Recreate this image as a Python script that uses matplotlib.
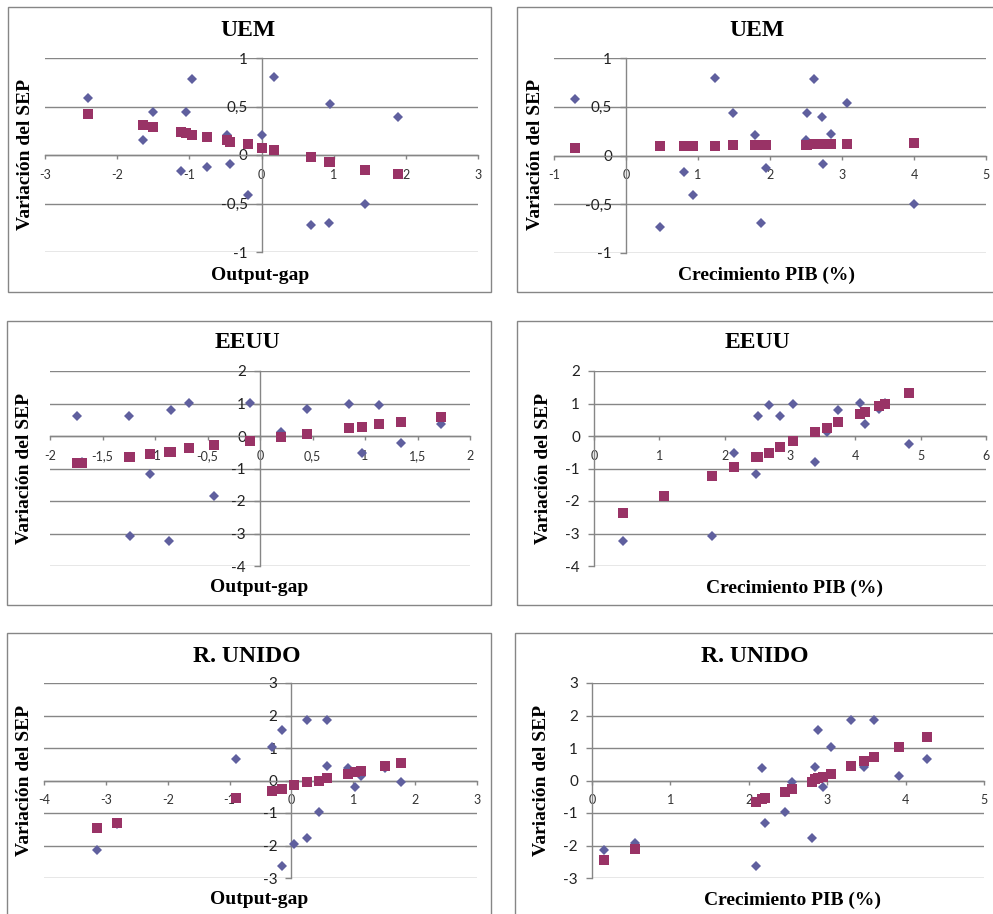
import matplotlib
matplotlib.use('Agg')
import matplotlib.pyplot as plt
from matplotlib.patches import Rectangle
from matplotlib.ticker import FuncFormatter, MultipleLocator

W, H = 993, 914

# UEM - output gap
uem_gap = [-2.40, -0.96, 0.17, -1.51, -1.05, 0.95, 1.89, -1.64, -0.48, 0.00, -1.11, -0.76, -0.44, -0.19, 1.43, 0.68, 0.94]
uem_gap_sep = [0.59, 0.78, 0.80, 0.44, 0.44, 0.53, 0.39, 0.15, 0.21, 0.21, -0.17, -0.12, -0.09, -0.41, -0.51, -0.72, -0.70]
uem_gap_fit = [0.42, 0.21, 0.05, 0.29, 0.23, -0.07, -0.20, 0.31, 0.15, 0.07, 0.24, 0.19, 0.13, 0.11, -0.15, -0.02, -0.07]

# UEM - crecimiento PIB
uem_pib = [-0.71, 1.23, 2.61, 1.49, 2.51, 3.07, 2.72, 1.79, 2.85, 2.50, 0.81, 1.94, 2.74, 0.93, 0.47, 1.88, 4.00]
uem_pib_sep = [0.58, 0.80, 0.78, 0.44, 0.44, 0.54, 0.40, 0.21, 0.22, 0.16, -0.17, -0.13, -0.09, -0.41, -0.73, -0.69, -0.50]
uem_pib_fit = [0.08, 0.10, 0.12, 0.11, 0.11, 0.12, 0.12, 0.11, 0.12, 0.11, 0.10, 0.11, 0.12, 0.10, 0.10, 0.11, 0.13]

# EEUU - output gap
eeuu_gap = [-1.74, -1.25, -0.85, -0.68, -0.10, 0.45, 0.85, 1.13, 0.20, 1.72, 1.34, 0.97, -1.05, -0.44, -1.24, -0.87, -1.70]
eeuu_gap_sep = [0.61, 0.61, 0.80, 1.02, 1.02, 0.84, 0.99, 0.94, 0.13, 0.36, -0.23, -0.51, -1.16, -1.85, -3.09, -3.22, -0.80]
eeuu_gap_fit = [-0.82, -0.64, -0.48, -0.38, -0.16, 0.06, 0.25, 0.36, -0.03, 0.58, 0.44, 0.29, -0.54, -0.28, -0.64, -0.48, -0.82]

# EEUU - crecimiento PIB
eeuu_pib = [0.44, 1.80, 2.15, 2.48, 2.51, 2.68, 2.85, 3.05, 3.38, 3.57, 3.74, 4.07, 4.15, 4.36, 4.45, 4.82, 1.07]
eeuu_pib_sep = [-3.23, -3.09, -0.52, -1.17, 0.61, 0.94, 0.61, 0.99, -0.80, 0.11, 0.80, 1.02, 0.36, 0.84, 1.03, -0.24, -1.85]
eeuu_pib_fit = [-2.38, -1.24, -0.96, -0.64, -0.64, -0.51, -0.35, -0.16, 0.13, 0.26, 0.42, 0.69, 0.73, 0.92, 1.00, 1.32, -1.85]

# R. UNIDO - output gap
ru_gap = [0.25, 0.58, -0.15, -0.32, -0.90, 0.58, 0.92, 1.13, 1.51, 1.77, 1.02, 0.45, 0.04, 0.25, -0.15, -3.14, -2.82]
ru_gap_sep = [1.86, 1.86, 1.54, 1.04, 0.65, 0.45, 0.39, 0.15, 0.40, -0.04, -0.19, -0.98, -1.96, -1.77, -2.62, -2.14, -1.35]
ru_gap_fit = [-0.06, 0.09, -0.26, -0.31, -0.53, 0.09, 0.20, 0.29, 0.45, 0.54, 0.27, 0.00, -0.14, -0.06, -0.26, -1.45, -1.31]

# R. UNIDO - crecimiento PIB
ru_pib = [3.30, 3.60, 2.88, 3.05, 4.27, 2.84, 2.17, 3.47, 3.91, 2.55, 2.95, 2.46, 2.21, 2.80, 2.09, 0.15, 0.55]
ru_pib_sep = [1.86, 1.86, 1.54, 1.04, 0.66, 0.41, 0.38, 0.42, 0.15, -0.04, -0.19, -0.98, -1.31, -1.77, -2.62, -2.14, -1.93]
ru_pib_fit = [0.46, 0.73, 0.09, 0.20, 1.33, 0.05, -0.58, 0.60, 1.03, -0.25, 0.12, -0.35, -0.55, -0.04, -0.65, -2.44, -2.10]

AZUL = '#5f5f9e'
GRANATE = '#993366'
GRIS = '#868686'
SERIF = 'Liberation Serif'
SANS = 'Lato'


def coma(v, pos):
    return f'{v:g}'.replace('.', ',')


def fx(px):
    return px / W


def fy(py):
    return 1 - py / H


def panel(fig, caja, area, titulo, xlabel, x, sep, fit, xlim, ylim, xpaso, ypaso, pos_titulo, pos_xlabel, pos_ylabel):
    x0, y0, x1, y1 = caja
    fig.add_artist(Rectangle((fx(x0), fy(y1)), fx(x1 - x0), (y1 - y0) / H,
                             transform=fig.transFigure, fill=False, edgecolor=GRIS, lw=1))
    a0, b0, a1, b1 = area
    ax = fig.add_axes([fx(a0), fy(b1), fx(a1 - a0), (b1 - b0) / H])
    ax.patch.set_visible(False)
    ax.set_xlim(*xlim)
    ax.set_ylim(*ylim)
    ax.xaxis.set_major_locator(MultipleLocator(xpaso))
    ax.yaxis.set_major_locator(MultipleLocator(ypaso))
    ax.xaxis.set_major_formatter(FuncFormatter(coma))
    ax.yaxis.set_major_formatter(FuncFormatter(coma))
    for s in ['top', 'right']:
        ax.spines[s].set_visible(False)
    ax.spines['left'].set_position(('data', 0))
    ax.spines['bottom'].set_position(('data', 0))
    for s in ['left', 'bottom']:
        ax.spines[s].set_color(GRIS)
        ax.spines[s].set_linewidth(1)
    ax.grid(axis='y', color=GRIS, lw=1)
    ax.set_axisbelow(True)
    ax.tick_params(axis='x', direction='out', length=3, width=1, color=GRIS, pad=7,
                   labelsize=9, labelcolor='#333333')
    ax.tick_params(axis='y', direction='out', length=4, width=1, color=GRIS, pad=6,
                   labelsize=11, labelcolor='#222222')
    for lab in ax.get_xticklabels() + ax.get_yticklabels():
        lab.set_family(SANS)
    ax.plot(x, sep, 'D', color=AZUL, ms=5.6, mew=0, zorder=3, clip_on=False)
    ax.plot(x, fit, 's', color=GRANATE, ms=7.4, mew=0, zorder=4, clip_on=False)

    fig.text(fx(pos_titulo[0]), fy(pos_titulo[1]), titulo, family=SERIF, weight='bold',
             fontsize=17, ha='center', va='center')
    fig.text(fx(pos_xlabel[0]), fy(pos_xlabel[1]), xlabel, family=SERIF, weight='bold',
             fontsize=14, ha='center', va='center')
    fig.text(fx(pos_ylabel[0]), fy(pos_ylabel[1]), 'Variación del SEP', family=SERIF,
             weight='bold', fontsize=14, ha='center', va='center', rotation=90)
    return ax


fig = plt.figure(figsize=(W / 100, H / 100), dpi=100)

panel(fig, (8, 7, 491, 292), (45, 58, 478, 252), 'UEM', 'Output-gap',
      uem_gap, uem_gap_sep, uem_gap_fit, (-3, 3), (-1, 1), 1, 0.5,
      (248, 31), (260, 275), (26, 154))
panel(fig, (517, 7, 1000, 292), (554, 58, 986, 253), 'UEM', 'Crecimiento PIB (%)',
      uem_pib, uem_pib_sep, uem_pib_fit, (-1, 5), (-1, 1), 1, 0.5,
      (757, 31), (767, 275), (535, 155))
panel(fig, (7, 321, 491, 605), (50, 371, 470, 566), 'EEUU', 'Output-gap',
      eeuu_gap, eeuu_gap_sep, eeuu_gap_fit, (-2, 2), (-4, 2), 0.5, 1,
      (247, 343), (259, 588), (25, 469))
panel(fig, (517, 321, 1000, 605), (594, 371, 986, 566), 'EEUU', 'Crecimiento PIB (%)',
      eeuu_pib, eeuu_pib_sep, eeuu_pib_fit, (0, 6), (-4, 2), 1, 1,
      (757, 343), (795, 588), (543, 468))
panel(fig, (7, 633, 491, 930), (44, 683, 477, 878), 'R. UNIDO', 'Output-gap',
      ru_gap, ru_gap_sep, ru_gap_fit, (-4, 3), (-3, 3), 1, 1,
      (247, 656), (259, 900), (25, 781))
panel(fig, (515, 633, 1000, 930), (592, 683, 984, 878), 'R. UNIDO', 'Crecimiento PIB (%)',
      ru_pib, ru_pib_sep, ru_pib_fit, (0, 5), (-3, 3), 1, 1,
      (755, 656), (793, 900), (542, 780))

fig.savefig('out.png', dpi=100)
